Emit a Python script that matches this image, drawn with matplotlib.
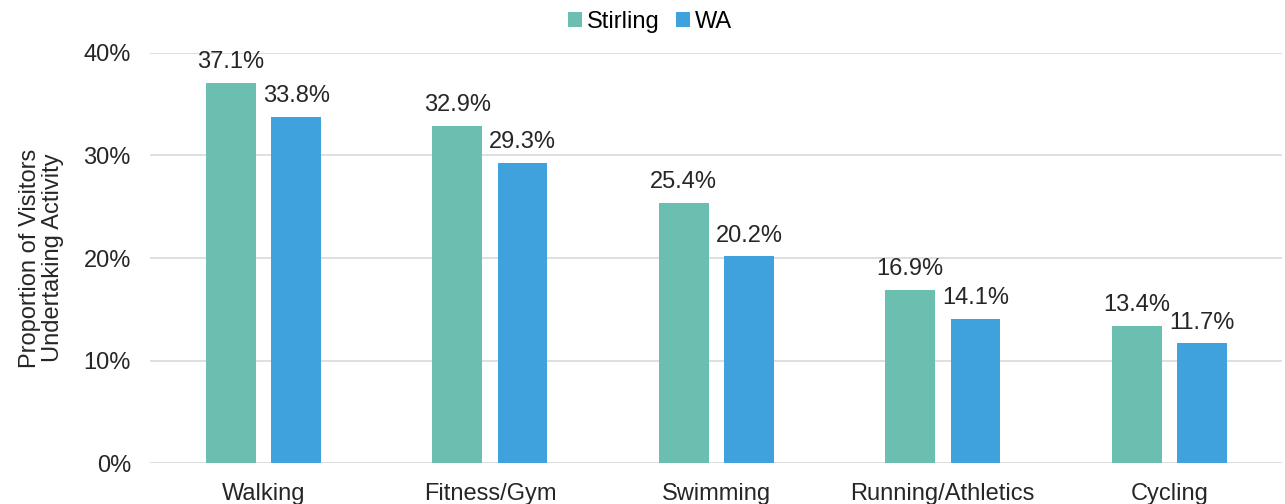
import matplotlib.pyplot as plt
import numpy as np

plt.rcParams['font.family'] = ['Liberation Sans', 'DejaVu Sans']

categories = ['Walking', 'Fitness/Gym', 'Swimming', 'Running/Athletics', 'Cycling']
stirling = [37.1, 32.9, 25.4, 16.9, 13.4]
wa = [33.8, 29.3, 20.2, 14.1, 11.7]
yticks = [0, 10, 20, 30, 40]

fs = 17
txt = '#262626'

fig = plt.figure(figsize=(12.85, 5.04), dpi=100)
ax = fig.add_axes([0.117, 0.081, 0.881, 0.814])

x = np.arange(len(categories))
w = 0.22
off = 0.144
b1 = ax.bar(x - off, stirling, w, color='#6ABFB1', label='Stirling', zorder=3)
b2 = ax.bar(x + off, wa, w, color='#3FA2DC', label='WA', zorder=3)

for bars, vals in ((b1, stirling), (b2, wa)):
    for b, v in zip(bars, vals):
        ax.text(b.get_x() + b.get_width() / 2, v + 1.4, f'{v:.1f}%',
                ha='center', va='baseline', fontsize=fs, color=txt, zorder=4)

ax.set_xlim(-0.5, len(categories) - 0.5)
ax.set_ylim(0, 40)
ax.set_yticks(yticks)
ax.set_yticklabels([f'{t}%' for t in yticks], fontsize=fs, color=txt)
ax.set_xticks(x)
ax.set_xticklabels(categories, fontsize=fs, color=txt)
ax.tick_params(axis='y', length=0, pad=14)
ax.tick_params(axis='x', length=0, pad=14)
ax.grid(axis='y', color='#D9D9D9', linewidth=1.2, zorder=0)
for s in ax.spines.values():
    s.set_visible(False)
ax.set_ylabel('Proportion of Visitors\nUndertaking Activity', fontsize=fs,
              color=txt, labelpad=14, linespacing=1.05)

fig.legend(loc='upper center', bbox_to_anchor=(0.506, 1.02), ncol=2, frameon=False,
           fontsize=fs, handlelength=0.6, handleheight=0.6, handletextpad=0.2,
           columnspacing=0.7)

fig.savefig('out.png', dpi=100)
